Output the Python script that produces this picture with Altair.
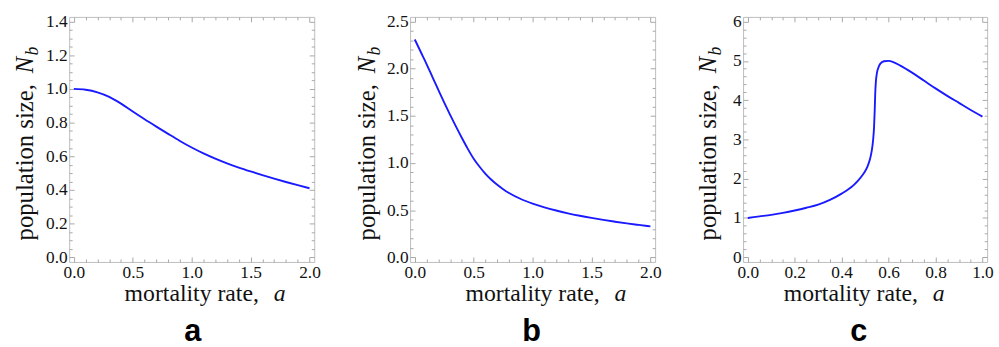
import altair as alt
import pandas as pd

# ---------------- data ----------------
a_x = [0.0, 0.1, 0.2, 0.3, 0.4, 0.5, 0.6, 0.7, 0.8, 0.9, 1.0,
       1.1, 1.2, 1.3, 1.4, 1.5, 1.6, 1.7, 1.8, 1.9, 2.0]
a_y = [1.000, 0.995, 0.980, 0.953, 0.913, 0.866, 0.820, 0.776, 0.733, 0.691, 0.652,
       0.617, 0.586, 0.558, 0.533, 0.510, 0.488, 0.467, 0.447, 0.428, 0.410]

b_x = [0.0, 0.05, 0.1, 0.15, 0.2, 0.25, 0.3, 0.35, 0.4, 0.45, 0.5, 0.55,
       0.6, 0.65, 0.7, 0.75, 0.8, 0.9, 1.0, 1.1, 1.2, 1.3, 1.4, 1.5,
       1.6, 1.7, 1.8, 1.9, 2.0]
b_y = [2.31, 2.18, 2.05, 1.912, 1.775, 1.64, 1.51, 1.385, 1.265, 1.15, 1.045, 0.96,
       0.885, 0.822, 0.768, 0.722, 0.682, 0.618, 0.57, 0.53, 0.496, 0.466, 0.44, 0.417,
       0.396, 0.377, 0.359, 0.343, 0.328]

c_x = [0.0, 0.05, 0.1, 0.15, 0.2, 0.25, 0.3, 0.35, 0.4, 0.45, 0.47, 0.49, 0.5,
       0.51, 0.52, 0.528, 0.534, 0.538, 0.541, 0.543, 0.546, 0.55, 0.556, 0.565,
       0.58, 0.6, 0.62, 0.65, 0.7, 0.75, 0.8, 0.85, 0.9, 0.95, 1.0]
c_y = [1.0, 1.04, 1.08, 1.13, 1.19, 1.26, 1.34, 1.46, 1.62, 1.83, 1.95, 2.10, 2.19,
       2.31, 2.48, 2.70, 2.98, 3.30, 3.75, 4.15, 4.48, 4.68, 4.82, 4.93,
       4.99, 5.0, 4.97, 4.88, 4.70, 4.50, 4.30, 4.11, 3.93, 3.75, 3.58]

x_title = "mortality rate,"
x_title_it = "a"
y_title = "population size,"
y_title_it = "N"
y_title_sub = "b"
panel_letters = ["a", "b", "c"]

# ---------------- style ----------------
BLUE = "#1a1aff"
FRAME = "#bdbdbd"
TICKC = "#a8a8a8"
LABEL_FONT = "Liberation Serif"
TITLE_FONT = "Liberation Serif"
LABEL_SIZE = 17.5
TITLE_SIZE = 24


def steps(lo, hi, step):
    n = int(round((hi - lo) / step))
    return [round(lo + i * step, 6) for i in range(n + 1)]


def axis(vals, major, fmt, length, orient):
    test = f"abs(datum.value/{major} - round(datum.value/{major})) < 1e-6"
    return alt.Axis(
        values=vals, title=None, orient=orient, domain=False, ticks=False, tickSize=0,
        labelPadding=2 if orient == "left" else 1.5,
        labelExpr=f"{test} ? format(datum.value, '{fmt}') : ''",
        labelFont=LABEL_FONT, labelFontSize=LABEL_SIZE, labelColor="#111111",
        labelOverlap=False, labelFlush=False,
        grid=True, gridColor=TICKC, gridWidth=1,
        gridDash={"condition": {"test": test, "value": [5, length - 10, 5, 2000]},
                  "value": [3, length - 6, 3, 2000]},
    )


def txt(text, x, y, **kw):
    return alt.Chart(alt.Data(values=[{"t": text}])).mark_text(**kw).encode(
        x=alt.value(x), y=alt.value(y), text="t:N")


def panel(xs, ys, xdom, ydom, xvals, yvals, xmaj, ymaj, xfmt, yfmt, W, H,
          ytx, xshift, letter, letter_x):
    df = pd.DataFrame({"x": xs, "y": ys})
    line = alt.Chart(df).mark_line(color=BLUE, strokeWidth=1.9, interpolate="monotone").encode(
        x=alt.X("x:Q", scale=alt.Scale(domain=xdom, nice=False, zero=False),
                axis=axis(xvals, xmaj, xfmt, H, "bottom")),
        y=alt.Y("y:Q", scale=alt.Scale(domain=ydom, nice=False, zero=False),
                axis=axis(yvals, ymaj, yfmt, W, "left")),
    )
    ty = H + 40
    layers = [
        line,
        txt(x_title, 192 + xshift, ty, align="right", baseline="alphabetic",
            font=TITLE_FONT, fontSize=TITLE_SIZE, color="#111111"),
        txt(x_title_it, 207 + xshift, ty, align="left", baseline="alphabetic",
            font=TITLE_FONT, fontSize=TITLE_SIZE, fontStyle="italic", color="#111111"),
        txt(y_title, ytx, 68, align="right", baseline="alphabetic", angle=270,
            font=TITLE_FONT, fontSize=TITLE_SIZE + 1, color="#111111"),
        txt(y_title_it, ytx, 57, align="left", baseline="alphabetic", angle=270,
            font=TITLE_FONT, fontSize=TITLE_SIZE + 1, fontStyle="italic", color="#111111"),
        txt(y_title_sub, ytx + 5, 39, align="left", baseline="alphabetic", angle=270,
            font=TITLE_FONT, fontSize=18, fontStyle="italic", color="#111111"),
        txt(letter, letter_x, H + 80, align="center", baseline="alphabetic",
            font="Liberation Sans", fontWeight="bold", fontSize=31, color="black"),
    ]
    return alt.layer(*layers).properties(width=W, height=H)


pa = panel(a_x, a_y, [-0.04, 2.04], [-0.028, 1.428],
           steps(0, 2, 0.1), steps(0, 1.4, 0.05), 0.5, 0.2, ".1f", ".1f",
           248, 248, -37, 0, panel_letters[0], 125)
pb = panel(b_x, b_y, [-0.04, 2.04], [-0.05, 2.55],
           steps(0, 2, 0.1), steps(0, 2.5, 0.1), 0.5, 0.5, ".1f", ".1f",
           248, 248, -35, 0, panel_letters[1], 123)
pc = panel(c_x, c_y, [-0.02, 1.02], [-0.12, 6.12],
           steps(0, 1, 0.05), steps(0, 6, 0.2), 0.2, 1, ".1f", "d",
           247, 248, -27, -15, panel_letters[2], 117)

chart = alt.hconcat(pa, pb, pc, spacing=34).properties(
    padding={"left": 12, "top": 10, "right": 5, "bottom": 0},
    background="white",
).configure_view(stroke=FRAME, strokeWidth=1)

chart.save("out.html", embed_options={"renderer": "svg", "actions": False})
